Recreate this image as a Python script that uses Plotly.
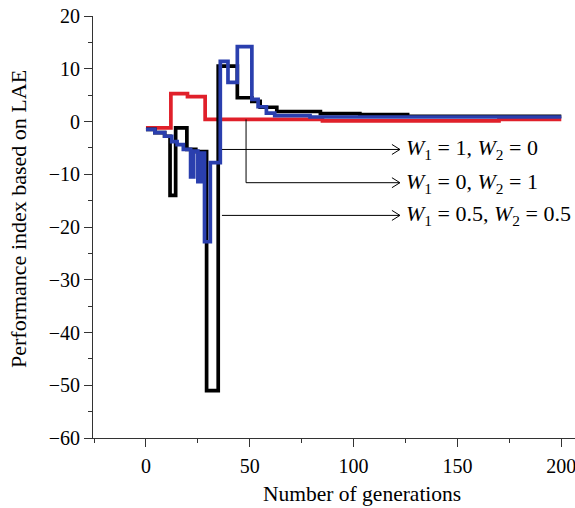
import plotly.graph_objects as go

# ---- data (step curves: value holds from x[i] until x[i+1]) ----
red_x = [0, 12, 20, 28.5, 85, 170, 200]
red_y = [-1.2, 5.3, 4.7, 0.4, 0.1, 0.4, 0.4]

black_x = [0, 4.3, 9, 11.6, 14.3, 19.7, 24, 29.2, 34.8, 44, 51, 55, 63, 84, 103, 126, 200]
black_y = [-1.5, -2.1, -2.8, -14.0, -1.2, -5.3, -5.7, -51.0, 10.5, 4.5, 3.8, 2.7, 1.9, 1.5, 1.3, 1.0, 1.0]

blue_x = [0, 4.3, 9, 12.4, 15, 18, 21.5, 23, 25, 26.5, 28.2, 31, 35.8, 39.5, 44, 51, 54, 58, 62, 79, 200]
blue_y = [-1.5, -2.1, -2.8, -3.8, -4.4, -5.3, -10.5, -5.6, -11.4, -6.0, -22.8, -7.8, 11.4, 7.4, 14.2,
          4.2, 2.8, 1.6, 1.1, 0.85, 0.85]

x_ticks = [0, 50, 100, 150, 200]
labels = ["<i>W</i><sub>1</sub> = 1, <i>W</i><sub>2</sub> = 0",
          "<i>W</i><sub>1</sub> = 0, <i>W</i><sub>2</sub> = 1",
          "<i>W</i><sub>1</sub> = 0.5, <i>W</i><sub>2</sub> = 0.5"]
label_y = [-5.3, -11.6, -17.8]
arrow_start_x = [36.6, 48.2, 36.6]
corner_top_y = 0.4  # vertical leader of 2nd label starts on the red line

# ---- layout geometry ----
W, H = 575, 508
ML, MR, MT, MB = 93, 0, 16, 70
XR = [-25.5, 206.6]
YR = [-60, 20]
pxx = (W - ML - MR) / (XR[1] - XR[0])
pxy = (H - MT - MB) / (YR[1] - YR[0])

FONT = "Liberation Serif"

fig = go.Figure()
fig.add_trace(go.Scatter(x=red_x, y=red_y, mode="lines", line=dict(color="#e0202a", width=3.7, shape="hv"),
                         showlegend=False, hoverinfo="skip"))
fig.add_trace(go.Scatter(x=black_x, y=black_y, mode="lines", line=dict(color="#000000", width=3.7, shape="hv"),
                         showlegend=False, hoverinfo="skip"))
fig.add_trace(go.Scatter(x=blue_x, y=blue_y, mode="lines", line=dict(color="#2a3fae", width=3.7, shape="hv"),
                         showlegend=False, hoverinfo="skip"))

tip_x = 122.3
head_dx = 8 / pxx
head_dy = 5 / pxy
shapes = []
annotations = []
for i, (lab, ly, sx) in enumerate(zip(labels, label_y, arrow_start_x)):
    if i == 1:
        shapes.append(dict(type="line", xref="x", yref="y", x0=sx, x1=sx, y0=corner_top_y, y1=ly,
                           line=dict(color="black", width=1)))
    shapes.append(dict(type="line", xref="x", yref="y", x0=sx, x1=tip_x, y0=ly, y1=ly,
                       line=dict(color="black", width=1)))
    shapes.append(dict(type="path", xref="x", yref="y",
                       path=f"M {tip_x - head_dx},{ly + head_dy} L {tip_x},{ly} L {tip_x - head_dx},{ly - head_dy}",
                       line=dict(color="black", width=1)))
    annotations.append(dict(x=tip_x + 1.8, y=ly, xref="x", yref="y", text=lab, showarrow=False,
                            xanchor="left", yanchor="middle",
                            font=dict(family=FONT, size=22, color="black")))

annotations.append(dict(x=(362 - ML) / (W - ML - MR), y=(H - MB - 494) / (H - MT - MB), xref="paper", yref="paper",
                        text="Number of generations", showarrow=False, xanchor="center", yanchor="middle",
                        font=dict(family=FONT, size=21.5, color="black")))
annotations.append(dict(x=(18 - ML) / (W - ML - MR), y=(H - MB - 219) / (H - MT - MB), xref="paper", yref="paper",
                        text="Performance index based on LAE", showarrow=False, textangle=-90,
                        xanchor="center", yanchor="middle",
                        font=dict(family=FONT, size=22, color="black")))

fig.update_layout(
    width=W, height=H,
    margin=dict(l=ML, r=MR, t=MT, b=MB, pad=0),
    paper_bgcolor="white", plot_bgcolor="white",
    shapes=shapes, annotations=annotations,
    font=dict(family=FONT, size=20, color="black"),
    xaxis=dict(range=XR, tickvals=x_ticks, ticks="outside", ticklen=8, tickwidth=1, tickcolor="#333",
               showline=True, linecolor="#333", linewidth=1, showgrid=False, zeroline=False,
               ticklabelstandoff=2, ticklabeloverflow="allow",
               minor=dict(dtick=25, tick0=0, ticks="outside", ticklen=4, tickcolor="#333", showgrid=False),
               tickfont=dict(family=FONT, size=20, color="black")),
    yaxis=dict(range=YR, dtick=10, ticks="outside", ticklen=8, tickwidth=1, tickcolor="#333",
               showline=True, linecolor="#333", linewidth=1, showgrid=False, zeroline=False,
               minor=dict(dtick=5, ticks="outside", ticklen=4, tickcolor="#333", showgrid=False),
               tickfont=dict(family=FONT, size=20, color="black")),
)

fig.write_html("out.html", config={"displayModeBar": False},
               post_script="document.body.style.margin='0';document.body.style.overflow='hidden';")
